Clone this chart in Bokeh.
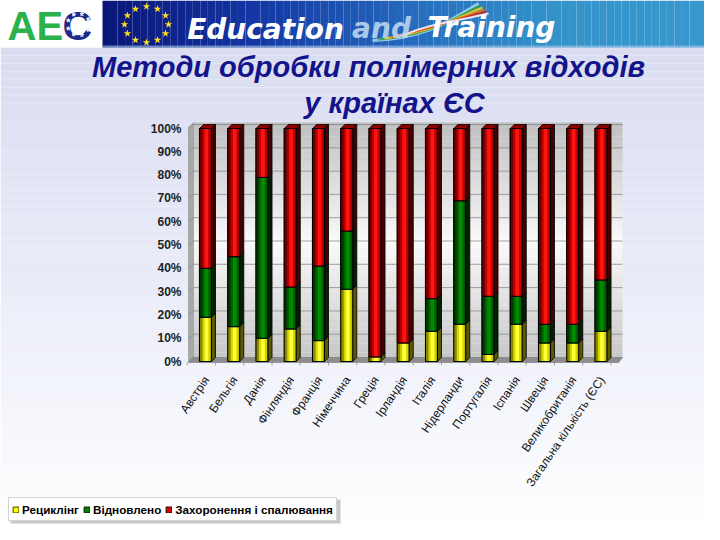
import numpy as np
from bokeh.plotting import figure
from bokeh.models import Range1d, Legend, LegendItem, ColumnDataSource
from bokeh.core.properties import value
from bokeh.embed import file_html
from bokeh.resources import INLINE

# ---------------- data ----------------
categories = ["Австрія", "Бельгія", "Данія", "Фінляндія", "Франція", "Німеччина",
              "Греція", "Ірландія", "Італія", "Нідерланди", "Португалія", "Іспанія",
              "Швеція", "Великобританія", "Загальна кількість (ЄС)"]
recycling = [19, 15, 10, 14, 9, 31, 2, 8, 13, 16, 3, 16, 8, 8, 13]
recovered = [21, 30, 69, 18, 32, 25, 0, 0, 14, 53, 25, 12, 8, 8, 22]
landfill = [60, 55, 21, 68, 59, 44, 98, 92, 73, 31, 72, 72, 84, 84, 65]
series_names = ["Рециклінг", "Відновлено", "Захоронення і спалювання"]
y_ticks = [0, 10, 20, 30, 40, 50, 60, 70, 80, 90, 100]
y_tick_labels = ["0%", "10%", "20%", "30%", "40%", "50%", "60%", "70%", "80%", "90%", "100%"]
title_line1 = "Методи обробки полімерних відходів"
title_line2 = "у країнах ЄС"
banner_words = ["Education", "and", "Training"]
logo_parts = ["AE", "C"]

# ---------------- geometry (screen pixels) ----------------
W, H = 704, 524
PX0, PX100 = 361.0, 128.0      # pixel rows of 0% and 100%
XC0, XSTEP = 205.0, 28.25      # pixel column of first bar, spacing
K = 100.0 / (PX0 - PX100)


def pct_at(py):
    return (PX0 - py) * K


def cat_at(px):
    return (px - XC0) / XSTEP


BW = 12.0 / XSTEP
DX = 4.0 / XSTEP
DY = 4.0 * K


def hexc(c):
    return "#%02x%02x%02x" % tuple(int(round(v)) for v in c)


def grad(stops, t):
    for (t0, c0), (t1, c1) in zip(stops[:-1], stops[1:]):
        if t <= t1:
            f = 0 if t1 == t0 else (t - t0) / (t1 - t0)
            return hexc([a + (b - a) * f for a, b in zip(c0, c1)])
    return hexc(stops[-1][1])


p = figure(width=W, height=H, x_range=Range1d(0, W), y_range=Range1d(H, 0),
           x_axis_type=None, y_axis_type=None, toolbar_location=None,
           output_backend="svg", min_border=0, outline_line_color=None,
           background_fill_color="#ffffff", border_fill_color="#ffffff")
p.extra_x_ranges = {"cat": Range1d(cat_at(0), cat_at(W))}
p.extra_y_ranges = {"pct": Range1d(pct_at(H), pct_at(0))}

# ---------------- page background ----------------
n = 60
ys = np.linspace(47, H, n + 1)
p.quad(left=0, right=W, top=ys[:-1], bottom=ys[1:],
       fill_color=[grad([(0, (218, 221, 241)), (0.5, (234, 236, 248)), (1, (255, 255, 255))], i / n) for i in range(n)],
       line_color=None)

# ---------------- header banner ----------------
p.quad(left=0, right=102, top=0, bottom=47, fill_color="#ffffff", line_color=None)
nb = 80
xs = np.linspace(102, W, nb + 1)
bstops = [(0, (10, 22, 120)), (0.25, (20, 55, 165)), (0.55, (40, 115, 192)), (0.75, (52, 148, 202)), (1, (56, 152, 204))]
p.quad(left=xs[:-1], right=xs[1:], top=0, bottom=47,
       fill_color=[grad(bstops, i / nb) for i in range(nb)], line_color=None)
p.quad(left=102, right=W, top=45, bottom=47, fill_color="#a8c8e8", line_color=None, fill_alpha=0.6)

# logo
p.text(x=[7], y=[25], text=[logo_parts[0]], text_font=value("Liberation Sans"), text_font_style="bold",
       text_font_size="40px", text_color="#2bb24c", text_baseline="middle")
p.text(x=[62], y=[25], text=[logo_parts[1]], text_font=value("Liberation Sans"), text_font_style="bold",
       text_font_size="41px", text_color="#1a2a8a", text_baseline="middle")
ang = np.linspace(0.5, 2 * np.pi - 0.5, 8)
p.scatter(x=78 + 11 * np.cos(ang), y=24 - 11 * np.sin(ang), marker="star", size=4, color="#e8e8ff")

# EU stars
ang = np.linspace(0, 2 * np.pi, 13)[:-1]
p.scatter(x=146 + 22 * np.cos(ang), y=24 + 18 * np.sin(ang), marker="star", size=8,
          fill_color="#ffdd22", line_color=None)

# swoosh
sw_cols = ["#9fd0f0", "#2e9e3e", "#f0d020", "#e87a20", "#d02020", "#f4f4f4"]
for j, c in enumerate(sw_cols):
    p.bezier(x0=[372 + j * 6], y0=[40 - j], x1=[478 + j * 2], y1=[3 + j * 2],
             cx0=[430], cy0=[38 - j * 3], cx1=[455], cy1=[16 + j],
             line_color=c, line_width=3 if j == 0 else 2, line_alpha=0.9)

p.text(x=[265], y=[29], text=[banner_words[0]], text_font=value("DejaVu Sans"), text_font_style="bold italic",
       text_font_size="28px", text_color="#ffffff", text_baseline="middle", text_align="center")
p.text(x=[381], y=[28], text=[banner_words[1]], text_font=value("DejaVu Sans"), text_font_style="bold italic",
       text_font_size="28px", text_color="#c4dcf2", text_alpha=0.85, text_baseline="middle", text_align="center")
p.text(x=[491], y=[27], text=[banner_words[2]], text_font=value("DejaVu Sans"), text_font_style="bold italic",
       text_font_size="28px", text_color="#ffffff", text_baseline="middle", text_align="center")

# ---------------- 3D walls ----------------
wall_l, wall_r, wall_t, wall_b = 193, 622, 122, 357
nw = 50
wy = np.linspace(wall_t, wall_b, nw + 1)
wstops = [(0, (192, 192, 192)), (0.5, (250, 250, 250)), (1, (198, 198, 198))]
p.quad(left=wall_l, right=wall_r, top=wy[:-1], bottom=wy[1:],
       fill_color=[grad(wstops, i / nw) for i in range(nw)], line_color=None)
p.patch(x=[188, 193, 193, 188], y=[362, 357, 122, 127], fill_color="#a8a8a8", line_color="#909090", line_width=0.6)
p.patch(x=[188, 618, 622, 193], y=[362, 362, 357, 357], fill_color="#8c8c8c", line_color="#7a7a7a", line_width=0.6)

# gridlines
yt = np.array(y_ticks, float)
p.segment(x0=wall_l, x1=wall_r, y0=yt + DY, y1=yt + DY, line_color="#8a8a8a", line_width=0.8,
          y_range_name="pct")
p.segment(x0=188, x1=193, y0=yt, y1=yt + DY, line_color="#8a8a8a", line_width=0.8, y_range_name="pct")
xi_all = np.arange(len(categories))
vx = np.arange(-1, len(categories)) + 10.0 / XSTEP
p.segment(x0=vx[1:], x1=vx[1:], y0=DY, y1=100 + DY, line_color="#b4b4b4", line_width=0.8,
          x_range_name="cat", y_range_name="pct")
p.segment(x0=vx, x1=vx, y0=pct_at(362), y1=pct_at(365), line_color="#909090", line_width=0.8,
          x_range_name="cat", y_range_name="pct")

# y tick labels
p.text(x=181, y=y_ticks, text=y_tick_labels, text_font=value("Liberation Sans"), text_font_style="bold",
       text_font_size="12px", text_color="#222222", text_align="right", text_baseline="middle",
       y_range_name="pct")

# ---------------- bars ----------------
pals = [
    dict(base="#ffff00", edge="#6a6a00", dark="#8a8a00", mid="#d6d600", light="#ffff38", side="#5a5a00", top="#b8b800"),
    dict(base="#008000", edge="#003000", dark="#003800", mid="#006200", light="#008c00", side="#002000", top="#004c00"),
    dict(base="#e00000", edge="#500000", dark="#700000", mid="#c00000", light="#ff1414", side="#420000", top="#8c0000"),
]
legend_renderers = []
cum = np.zeros(len(categories))
for vals, pal in zip([recycling, recovered, landfill], pals):
    v = np.array(vals, float)
    bot = cum.copy()
    top = cum + v
    cum = top
    m = v > 0
    xs_ = xi_all[m].astype(float)
    b = bot[m]
    t = top[m]
    src = ColumnDataSource(dict(x=xs_, bottom=b, top=t, xh=xs_ + BW * 0.08))
    p.patches(xs=[[x + BW / 2, x + BW / 2 + DX, x + BW / 2 + DX, x + BW / 2] for x in xs_],
              ys=[[bb, bb + DY, tt + DY, tt] for bb, tt in zip(b, t)],
              fill_color=pal["side"], line_color="#000000", line_width=0.8,
              x_range_name="cat", y_range_name="pct")
    base = p.vbar(x="x", bottom="bottom", top="top", width=BW, source=src, fill_color=pal["base"],
                  line_color=pal["edge"], line_width=1.2, x_range_name="cat", y_range_name="pct")
    legend_renderers.append(base)
    p.vbar(x="x", bottom="bottom", top="top", width=BW, source=src, fill_color=pal["dark"],
           line_color=None, x_range_name="cat", y_range_name="pct")
    p.vbar(x="xh", bottom="bottom", top="top", width=BW * 0.66, source=src, fill_color=pal["mid"],
           line_color=None, x_range_name="cat", y_range_name="pct")
    p.vbar(x="xh", bottom="bottom", top="top", width=BW * 0.3, source=src, fill_color=pal["light"],
           line_color=None, x_range_name="cat", y_range_name="pct")
    p.vbar(x="x", bottom="bottom", top="top", width=BW, source=src, fill_color=None,
           line_color="#000000", line_width=1, x_range_name="cat", y_range_name="pct")

# top faces
xf = xi_all.astype(float)
p.patches(xs=[[x - BW / 2, x + BW / 2, x + BW / 2 + DX, x - BW / 2 + DX] for x in xf],
          ys=[[c, c, c + DY, c + DY] for c in cum],
          fill_color=pals[2]["top"], line_color="#000000", line_width=0.8,
          x_range_name="cat", y_range_name="pct")

# category labels
p.text(x=xf + 1.0 / XSTEP, y=pct_at(377), text=categories, angle=np.deg2rad(56),
       text_font=value("Liberation Sans"), text_font_size="12px", text_color="#111111",
       text_align="right", text_baseline="middle", x_range_name="cat", y_range_name="pct")

# ---------------- title ----------------
p.text(x=[368], y=[66.5], text=[title_line1], text_font=value("Liberation Sans"), text_font_style="bold italic",
       text_font_size="29px", text_color="#14148a", text_align="center", text_baseline="middle")
p.text(x=[394], y=[102.5], text=[title_line2], text_font=value("Liberation Sans"), text_font_style="bold italic",
       text_font_size="29px", text_color="#14148a", text_align="center", text_baseline="middle")

# ---------------- legend ----------------
p.quad(left=10, right=340, top=499, bottom=523, fill_color="#c8c8cc", line_color=None)
items = [LegendItem(label=name, renderers=[r]) for name, r in zip(series_names, legend_renderers)]
legend = Legend(items=items, orientation="horizontal", location=(8, 3),
                background_fill_color="#ffffff", background_fill_alpha=1.0,
                border_line_color="#a8a8a8", border_line_width=1,
                label_text_font="Liberation Sans", label_text_font_style="bold",
                label_text_font_size="11.7px", label_text_color="#000000",
                glyph_width=7, glyph_height=7, label_standoff=3, spacing=4,
                padding=3, margin=0, label_height=16)
p.add_layout(legend)

open("out.html", "w").write(file_html(p, INLINE))
